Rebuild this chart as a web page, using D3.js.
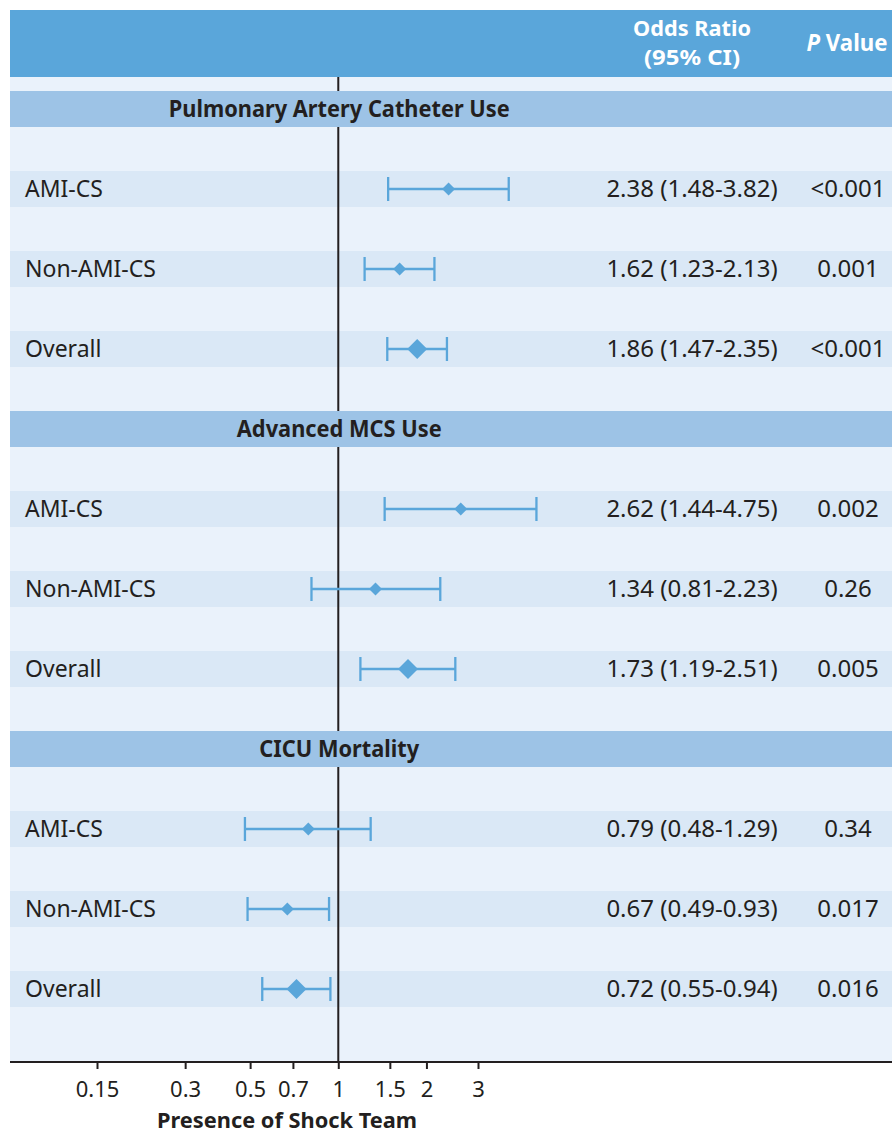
<!DOCTYPE html>
<html>
<head>
<meta charset="utf-8">
<script src="https://cdn.jsdelivr.net/npm/d3@7"></script>
<style>
  body { margin: 0; background: #fff; }
  text { font-family: "Noto Sans", "Open Sans", sans-serif; fill: #231f20; }
</style>
</head>
<body>
<svg width="892" height="1134"></svg>
<script>
var svg = d3.select("svg"),
    width = +svg.attr("width"),
    height = +svg.attr("height");

// Data
var sections = ["Pulmonary Artery Catheter Use", "Advanced MCS Use", "CICU Mortality"];
var groups = ["AMI-CS", "Non-AMI-CS", "Overall"];
var oddsRatio = [2.38, 1.62, 1.86, 2.62, 1.34, 1.73, 0.79, 0.67, 0.72];
var ciLow = [1.48, 1.23, 1.47, 1.44, 0.81, 1.19, 0.48, 0.49, 0.55];
var ciHigh = [3.82, 2.13, 2.35, 4.75, 2.23, 2.51, 1.29, 0.93, 0.94];
var pValues = ["<0.001", "0.001", "<0.001", "0.002", "0.26", "0.005", "0.34", "0.017", "0.016"];
var tickValues = [0.15, 0.3, 0.5, 0.7, 1, 1.5, 2, 3];
var tickLabels = ["0.15", "0.3", "0.5", "0.7", "1", "1.5", "2", "3"];

var blue = "#5aa6da",
    sectionFill = "#9dc3e6",
    rowFill = "#dae8f6",
    panelFill = "#eaf2fb";

var left = 10, right = 892, headTop = 10, headBottom = 77, axisY = 1062;

// log scale for odds ratio
var x = d3.scaleLog()
    .domain([0.15, 3])
    .range([97, 478]);

// each section = 8 slots of 40px
var y = d3.scaleLinear()
    .domain([0, 1])
    .range([109, 149]);

var rows = oddsRatio.map(function(d, i) {
  var s = Math.floor(i / 3), g = i % 3;
  return {
    label: groups[g], or: d, lo: ciLow[i], hi: ciHigh[i], p: pValues[i],
    slot: s * 8 + 2 + g * 2, overall: g == 2
  };
});

// Panel background
svg.append("rect")
    .attr("x", left).attr("y", headBottom)
    .attr("width", right - left).attr("height", axisY - headBottom)
    .attr("fill", panelFill);

// Header
svg.append("rect")
    .attr("x", left).attr("y", headTop)
    .attr("width", right - left).attr("height", headBottom - headTop)
    .attr("fill", blue);

svg.append("text")
    .attr("x", 692).attr("y", 36)
    .attr("text-anchor", "middle")
    .attr("font-size", 22).attr("font-weight", "bold")
    .style("fill", "#fff")
    .attr("textLength", 118).attr("lengthAdjust", "spacingAndGlyphs")
    .text("Odds Ratio");

svg.append("text")
    .attr("x", 692).attr("y", 65)
    .attr("text-anchor", "middle")
    .attr("font-size", 22).attr("font-weight", "bold")
    .style("fill", "#fff")
    .attr("textLength", 96).attr("lengthAdjust", "spacingAndGlyphs")
    .text("(95% CI)");

var pv = svg.append("text")
    .attr("x", 847).attr("y", 51)
    .attr("text-anchor", "middle")
    .attr("font-size", 24).attr("font-weight", "bold")
    .style("fill", "#fff")
    .attr("textLength", 81).attr("lengthAdjust", "spacingAndGlyphs");
pv.append("tspan").attr("font-style", "italic").text("P");
pv.append("tspan").text(" Value");

// Row bands
svg.append("g").selectAll("rect")
    .data(rows)
  .enter().append("rect")
    .attr("x", left)
    .attr("y", function(d) { return y(d.slot) - 18; })
    .attr("width", right - left)
    .attr("height", 36)
    .attr("fill", rowFill);

// Reference line at 1
svg.append("line")
    .attr("x1", x(1)).attr("x2", x(1))
    .attr("y1", headBottom).attr("y2", axisY)
    .attr("stroke", "#231f20").attr("stroke-width", 2);

// Section bands + titles (over the line)
var titleWidths = [341, 205, 160];
sections.forEach(function(s, i) {
  var cy = y(i * 8);
  svg.append("rect")
      .attr("x", left).attr("y", cy - 18)
      .attr("width", right - left).attr("height", 36)
      .attr("fill", sectionFill);
  svg.append("text")
      .attr("x", x(1) + 1).attr("y", cy + 8)
      .attr("text-anchor", "middle")
      .attr("font-size", 24).attr("font-weight", "bold")
      .attr("textLength", titleWidths[i]).attr("lengthAdjust", "spacingAndGlyphs")
      .text(s);
});

// CI lines and markers
var marks = svg.append("g").selectAll("g")
    .data(rows)
  .enter().append("g")
    .attr("transform", function(d) { return "translate(0," + y(d.slot) + ")"; });

marks.append("line")
    .attr("x1", function(d) { return x(d.lo); })
    .attr("x2", function(d) { return x(d.hi); })
    .attr("stroke", blue).attr("stroke-width", 2.3);

marks.append("line")
    .attr("x1", function(d) { return x(d.lo); })
    .attr("x2", function(d) { return x(d.lo); })
    .attr("y1", -12).attr("y2", 12)
    .attr("stroke", blue).attr("stroke-width", 2.3);

marks.append("line")
    .attr("x1", function(d) { return x(d.hi); })
    .attr("x2", function(d) { return x(d.hi); })
    .attr("y1", -12).attr("y2", 12)
    .attr("stroke", blue).attr("stroke-width", 2.3);

marks.append("path")
    .attr("d", function(d) {
      var r = d.overall ? 10 : 6.5, cx = x(d.or);
      return "M" + (cx - r) + ",0L" + cx + "," + (-r) + "L" + (cx + r) + ",0L" + cx + "," + r + "Z";
    })
    .attr("fill", blue);

// Row texts
marks.append("text")
    .attr("x", 25).attr("y", 8)
    .attr("font-size", 23)
    .text(function(d) { return d.label; });

marks.append("text")
    .attr("x", 692).attr("y", 8)
    .attr("text-anchor", "middle")
    .attr("font-size", 24)
    .text(function(d) { return d.or.toFixed(2) + " (" + d.lo.toFixed(2) + "-" + d.hi.toFixed(2) + ")"; });

marks.append("text")
    .attr("x", 848).attr("y", 8)
    .attr("text-anchor", "middle")
    .attr("font-size", 24)
    .text(function(d) { return d.p; });

// Axis
var axis = svg.append("g")
    .attr("transform", "translate(0," + axisY + ")")
    .call(d3.axisBottom(x)
      .tickValues(tickValues)
      .tickFormat(function(d, i) { return tickLabels[i]; })
      .tickSize(7)
      .tickPadding(12));

axis.select(".domain").remove();
axis.selectAll(".tick line").attr("stroke", "#231f20").attr("stroke-width", 2);
axis.selectAll(".tick text")
    .attr("font-size", 22)
    .style("font-family", "'Noto Sans', sans-serif")
    .attr("fill", "#231f20");

svg.append("line")
    .attr("x1", left).attr("x2", right)
    .attr("y1", axisY).attr("y2", axisY)
    .attr("stroke", "#231f20").attr("stroke-width", 2);

svg.append("text")
    .attr("x", 287).attr("y", 1128)
    .attr("text-anchor", "middle")
    .attr("font-size", 22).attr("font-weight", "bold")
    .attr("textLength", 260).attr("lengthAdjust", "spacingAndGlyphs")
    .text("Presence of Shock Team");
</script>
</body>
</html>
